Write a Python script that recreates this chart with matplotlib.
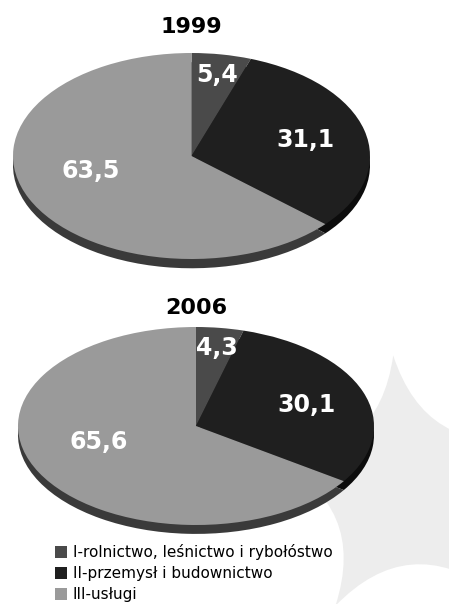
import matplotlib
matplotlib.use('Agg')
import matplotlib.pyplot as plt
import numpy as np
from matplotlib.patches import Patch, PathPatch
from matplotlib.path import Path

YEARS = ['1999', '2006']
VALUES_1999 = [5.4, 31.1, 63.5]
VALUES_2006 = [4.3, 30.1, 65.6]
SECTORS = ['I-rolnictwo, leśnictwo i rybołóstwo',
           'II-przemysł i budownictwo',
           'III-usługi']

TOP = ['#4a4a4a', '#1f1f1f', '#9a9a9a']
SIDE = ['#2e2e2e', '#0c0c0c', '#3a3a3a']
W, H = 449, 604
DEPTH = 0.09
# per-slice label radius (x, y) as a fraction of the ellipse
LAB_RX = [0.85, 0.66, 0.62]
LAB_RY = [0.80, 0.62, 0.35]


def draw_pie(fig, values, title, left, top, width, half_h, title_y):
    # axes box in pixels: x spans the ellipse, y from +1 down to -(1+depth+pad)
    ylo = -1.0 - DEPTH - 0.05
    height = half_h * (1.0 - ylo)
    ax = fig.add_axes([left / W, 1 - (top + height) / H, width / W, height / H])
    ax.pie(values, startangle=90, counterclock=False, colors=SIDE,
           center=(0, -DEPTH), wedgeprops=dict(linewidth=0))
    wedges, _ = ax.pie(values, startangle=90, counterclock=False, colors=TOP,
                       wedgeprops=dict(linewidth=0))
    ax.set_aspect('auto')
    ax.set_xlim(-1.0, 1.0)
    ax.set_ylim(ylo, 1.0)
    for i, (w, v) in enumerate(zip(wedges, values)):
        ang = np.deg2rad((w.theta1 + w.theta2) / 2)
        ax.text(LAB_RX[i] * np.cos(ang), LAB_RY[i] * np.sin(ang),
                f'{v:.1f}'.replace('.', ','), color='white', fontsize=17,
                fontweight='bold', ha='center', va='center')
    fig.text((left + width / 2) / W, 1 - title_y / H, title, fontsize=16,
             fontweight='bold', ha='center', va='center')
    return ax


fig = plt.figure(figsize=(W / 100, H / 100), dpi=100)
fig.patch.set_facecolor('white')

# faint star watermark behind the lower chart
bg = fig.add_axes([0, 0, 1, 1])
bg.set_xlim(0, W)
bg.set_ylim(H, 0)
bg.axis('off')
cx, cy, R, rc = 405, 490, 135, 0.3
tips = [np.deg2rad(a) for a in (95, 23, -49, -121, 167)]
verts, codes = [], []
for k, a in enumerate(tips + tips[:1]):
    p = (cx + R * np.cos(a), cy - R * np.sin(a))
    if k == 0:
        verts.append(p)
        codes.append(Path.MOVETO)
    else:
        mid = a + np.deg2rad(36)
        ctrl = (cx + rc * R * np.cos(mid), cy - rc * R * np.sin(mid))
        verts += [ctrl, p]
        codes += [Path.CURVE3, Path.CURVE3]
bg.add_patch(PathPatch(Path(verts, codes), facecolor='#ededed', edgecolor='none'))

draw_pie(fig, VALUES_1999, YEARS[0], 13, 53, 357, 103, 27)
draw_pie(fig, VALUES_2006, YEARS[1], 18, 327, 356, 99, 308)

handles = [Patch(facecolor=c, edgecolor='none') for c in TOP]
fig.legend(handles, SECTORS, loc='upper left', bbox_to_anchor=(55 / W, 1 - 544 / H),
           frameon=False, fontsize=11, handlelength=0.8, handleheight=0.8,
           handletextpad=0.35, labelspacing=0.4, borderpad=0, borderaxespad=0)

fig.savefig('out.png', dpi=100)
